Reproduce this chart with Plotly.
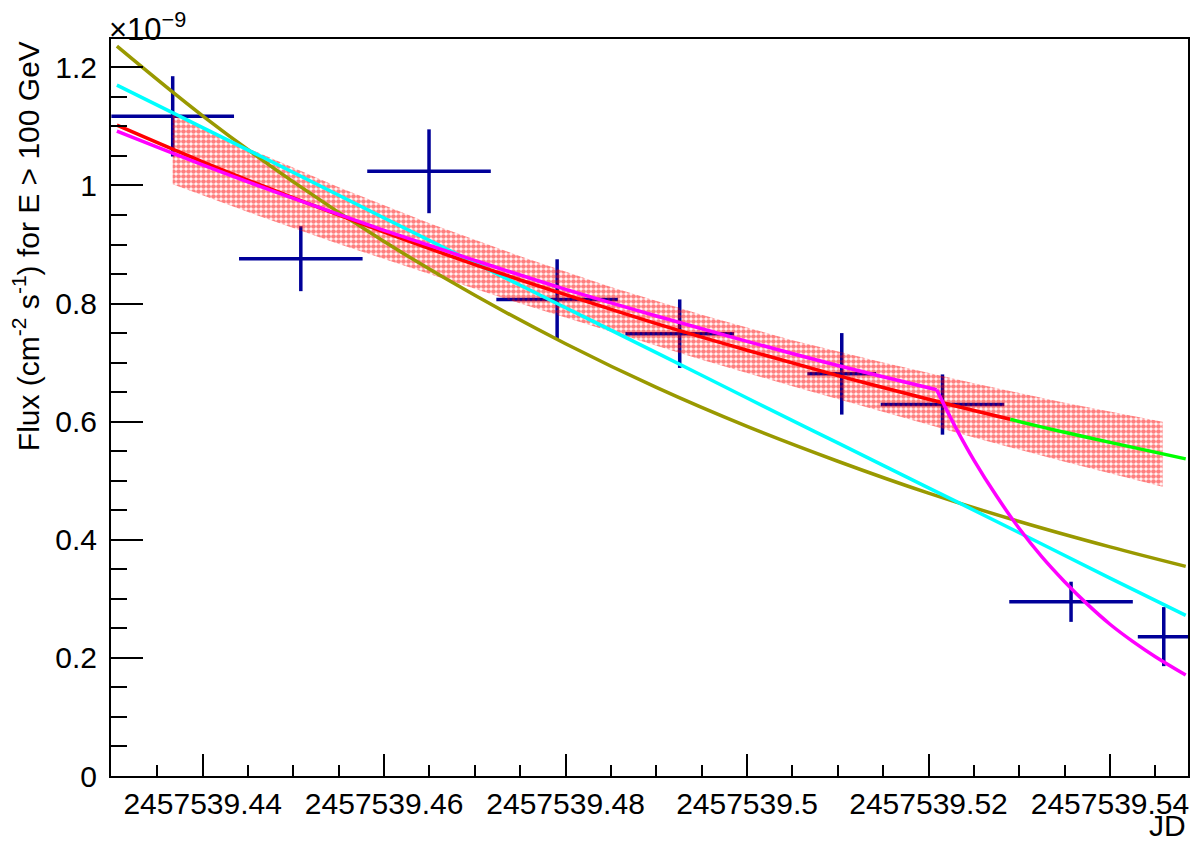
import plotly.graph_objects as go

JD0 = 2457539.0

# data points (flux in units of 1e-9 cm^-2 s^-1)
pt_jd = [0.43670, 0.45082, 0.46495, 0.47907, 0.49258, 0.51044, 0.52154, 0.53571, 0.54593]
pt_jd_err = [0.00676, 0.00681, 0.00681, 0.00670, 0.00599, 0.00379, 0.00681, 0.00681, 0.00286]
pt_flux = [1.117, 0.876, 1.024, 0.807, 0.749, 0.681, 0.629, 0.295, 0.236]
pt_flux_err = [0.068, 0.055, 0.071, 0.068, 0.058, 0.069, 0.051, 0.034, 0.050]

# fitted curves
curve_jd = [0.43055, 0.44, 0.45, 0.46, 0.47, 0.48, 0.49, 0.50, 0.51, 0.52, 0.53, 0.54, 0.54835]
olive_flux = [1.236, 1.118, 1.006, 0.905, 0.814, 0.732, 0.658, 0.592, 0.533, 0.479, 0.431, 0.388, 0.355]
cyan_flux = [1.170, 1.098, 1.022, 0.945, 0.869, 0.793, 0.717, 0.640, 0.564, 0.488, 0.412, 0.335, 0.272]

red_jd = [0.43055, 0.44, 0.45, 0.46, 0.47, 0.48, 0.49, 0.50, 0.51, 0.52, 0.52901]
red_flux = [1.102, 1.040, 0.979, 0.921, 0.866, 0.815, 0.766, 0.721, 0.678, 0.638, 0.604]

green_jd = [0.52901, 0.535, 0.54, 0.54835]
green_flux = [0.604, 0.582, 0.565, 0.537]

# magenta: slow decay, then a fast one after the break
mag1_jd = [0.43055, 0.44, 0.45, 0.46, 0.47, 0.48, 0.49, 0.50, 0.51, 0.5209]
mag1_flux = [1.092, 1.035, 0.978, 0.924, 0.873, 0.824, 0.779, 0.736, 0.695, 0.654]
mag2_jd = [0.5209, 0.523, 0.525, 0.5275, 0.53, 0.5325, 0.535, 0.5375, 0.54, 0.5425, 0.545, 0.54835]
mag2_flux = [0.654, 0.590, 0.535, 0.474, 0.419, 0.371, 0.329, 0.291, 0.257, 0.228, 0.202, 0.171]

# error band of the red fit
band_jd = [0.4367, 0.445, 0.455, 0.465, 0.475, 0.485, 0.495, 0.505, 0.515, 0.525, 0.535, 0.5458]
band_hi = [1.120, 1.063, 0.997, 0.936, 0.880, 0.828, 0.781, 0.738, 0.700, 0.665, 0.632, 0.600]
band_lo = [1.002, 0.955, 0.901, 0.850, 0.800, 0.752, 0.705, 0.660, 0.616, 0.573, 0.532, 0.490]

x_tickvals = [0.44, 0.46, 0.48, 0.50, 0.52, 0.54]
x_ticktext = ["2457539.44", "2457539.46", "2457539.48", "2457539.5", "2457539.52", "2457539.54"]

FONT = "Liberation Sans, Arial, sans-serif"
NAVY = "rgb(0,0,153)"


def jd(v):
    return [JD0 + a for a in v]


fig = go.Figure()

fig.add_trace(go.Scatter(
    x=jd(pt_jd), y=pt_flux, mode="markers",
    marker=dict(size=1, color="rgba(0,0,0,0)"),
    error_x=dict(type="data", array=pt_jd_err, color=NAVY, thickness=3.5, width=0),
    error_y=dict(type="data", array=pt_flux_err, color=NAVY, thickness=3.5, width=0),
))

fig.add_trace(go.Scatter(
    x=jd(band_jd + band_jd[::-1]), y=band_hi + band_lo[::-1],
    mode="lines", fill="toself", line=dict(width=0),
    fillcolor="rgba(0,0,0,0)",
    fillpattern=dict(shape=".", fgcolor="red", bgcolor="rgba(255,255,255,0)",
                     size=5, solidity=0.7),
))

fig.add_trace(go.Scatter(x=jd(curve_jd), y=olive_flux, mode="lines",
                         line=dict(color="rgb(153,153,0)", width=3.5, shape="spline")))
fig.add_trace(go.Scatter(x=jd(curve_jd), y=cyan_flux, mode="lines",
                         line=dict(color="rgb(0,255,255)", width=3.5, shape="spline")))
fig.add_trace(go.Scatter(x=jd(red_jd), y=red_flux, mode="lines",
                         line=dict(color="rgb(255,0,0)", width=3.5, shape="spline")))
fig.add_trace(go.Scatter(x=jd(green_jd), y=green_flux, mode="lines",
                         line=dict(color="rgb(0,255,0)", width=3.5, shape="spline")))
fig.add_trace(go.Scatter(x=jd(mag1_jd), y=mag1_flux, mode="lines",
                         line=dict(color="rgb(255,0,255)", width=3.5, shape="spline")))
fig.add_trace(go.Scatter(x=jd(mag2_jd), y=mag2_flux, mode="lines",
                         line=dict(color="rgb(255,0,255)", width=3.5, shape="spline")))

# the page body adds an 8px margin, so the figure is a bit smaller than the window
fig.update_layout(
    width=1184, height=831,
    margin=dict(l=103, r=2, t=31, b=63),
    paper_bgcolor="white", plot_bgcolor="white",
    showlegend=False,
    font=dict(family=FONT, size=30, color="black"),
)

fig.update_xaxes(
    range=[JD0 + 0.4299, JD0 + 0.5486],
    tickmode="array", tickvals=jd(x_tickvals), ticktext=x_ticktext,
    ticks="inside", ticklen=22, tickwidth=2, tickcolor="black",
    minor=dict(tickmode="linear", tick0=JD0 + 0.44, dtick=0.005,
               ticks="inside", ticklen=11, tickwidth=2, tickcolor="black"),
    showline=True, linecolor="black", linewidth=2, mirror=True,
    showgrid=False, zeroline=False,
    tickfont=dict(size=30),
)

fig.update_yaxes(
    range=[0, 1.248],
    tick0=0, dtick=0.2,
    ticks="inside", ticklen=32, tickwidth=2, tickcolor="black",
    minor=dict(tick0=0, dtick=0.05, ticks="inside", ticklen=16,
               tickwidth=2, tickcolor="black"),
    showline=True, linecolor="black", linewidth=2, mirror=True,
    showgrid=False, zeroline=False,
    tickfont=dict(size=30),
    ticklabelstandoff=6,
)

fig.add_annotation(
    text="×10<sup>−9</sup>", xref="paper", yref="paper", x=0, y=1,
    xanchor="left", yanchor="bottom", showarrow=False, xshift=-4, yshift=-10,
    font=dict(size=31),
)
fig.add_annotation(
    text="Flux (cm<sup>-2</sup> s<sup>-1</sup>) for E > 100 GeV",
    xref="paper", yref="paper", x=-0.0825, y=1, xanchor="center", yanchor="top",
    textangle=-90, showarrow=False, xshift=4, font=dict(size=30),
)
fig.add_annotation(
    text="JD", xref="paper", yref="paper", x=1, y=-0.067,
    xanchor="right", yanchor="middle", showarrow=False, font=dict(size=30),
)

fig.write_html("out.html")
